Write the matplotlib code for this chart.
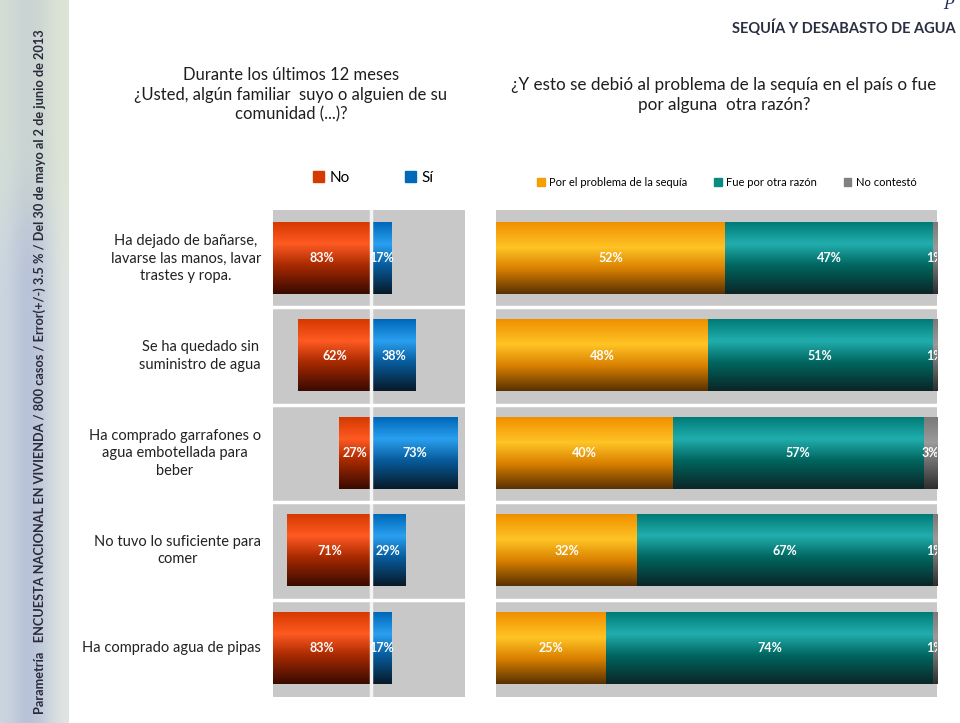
import numpy as np
import matplotlib.pyplot as plt
from matplotlib.patches import Patch

# Datos de la lámina (Parametría, sequía y desabasto de agua)
categorias = ["Ha dejado de bañarse,\nlavarse las manos, lavar\ntrastes y ropa.",
              "Se ha quedado sin\nsuministro de agua",
              "Ha comprado garrafones o\nagua embotellada para\nbeber",
              "No tuvo lo suficiente para\ncomer",
              "Ha comprado agua de pipas"]
no_vals = [83, 62, 27, 71, 83]
si_vals = [17, 38, 73, 29, 17]

sequia = [52, 48, 40, 32, 25]
otra_razon = [47, 51, 57, 67, 74]
no_contesto = [1, 1, 3, 1, 1]

plt.rcParams['font.family'] = ['Lato', 'DejaVu Sans']

# Degradados tipo Excel 2007 (arriba -> abajo)
rojo = [(0, '#d63a00'), (0.3, '#ff5a22'), (0.6, '#a82a00'), (1, '#3a0a00')]
azul = [(0, '#0068b8'), (0.3, '#2aa0f0'), (0.6, '#075c9c'), (1, '#071a2a')]
naranja = [(0, '#f09000'), (0.35, '#ffc425'), (0.65, '#d98000'), (1, '#5a3200')]
verde = [(0, '#007c78'), (0.3, '#22aeae'), (0.6, '#006660'), (1, '#0a2626')]
gris = [(0, '#7a7a7a'), (0.35, '#9a9a9a'), (1, '#2e2e2e')]


def degradado(stops, n=64):
    t = np.linspace(0, 1, n)
    pos = [s[0] for s in stops]
    cols = np.array([[int(s[1][i:i + 2], 16) / 255 for i in (1, 3, 5)] for s in stops])
    img = np.stack([np.interp(t, pos, cols[:, c]) for c in range(3)], axis=-1)
    return img[:, None, :]


def pintar(ax, barras, stops):
    img = degradado(stops)
    for b in barras:
        x0, y0, w, h = b.get_x(), b.get_y(), b.get_width(), b.get_height()
        ax.imshow(img, extent=(x0, x0 + w, y0 + h, y0), origin='upper',
                  aspect='auto', zorder=3, interpolation='bilinear')


fig = plt.figure(figsize=(9.6, 7.23), dpi=100)

# Franja lateral
ax_s = fig.add_axes([0, 0, 0.071, 1])
franja = np.array([[[0.80, 0.84, 0.88], [0.70, 0.74, 0.84], [0.76, 0.80, 0.86], [0.88, 0.90, 0.88]]])
franja = np.repeat(franja, 10, axis=0)
franja[:3] = franja[:3] * 0.5 + np.array([0.86, 0.90, 0.80]) * 0.5
ax_s.imshow(franja, aspect='auto', interpolation='bicubic', extent=(0, 1, 0, 1))
ax_s.set_axis_off()
ax_s.text(0.58, 0.012, "Parametría   ENCUESTA NACIONAL EN VIVIENDA / 800 casos / Error(+/-) 3.5 % / "
          "Del 30 de mayo al 2 de junio de 2013", rotation=90, ha='center', va='bottom',
          fontsize=9.2, fontweight='bold', color='#2a2a3a',
          transform=ax_s.transAxes)

y = np.arange(len(categorias))

# Gráfica izquierda
ax1 = fig.add_axes([0.284, 0.036, 0.2, 0.674])
ax1.set_facecolor('#c8c8c8')
b_no = ax1.barh(y, [-v for v in no_vals], height=0.73, color='#d63a00', zorder=2)
b_si = ax1.barh(y, si_vals, height=0.73, color='#0068b8', zorder=2)
pintar(ax1, b_no, rojo)
pintar(ax1, b_si, azul)
for i in range(len(categorias)):
    ax1.text(-no_vals[i] / 2, y[i], f"{no_vals[i]}%", ha='center', va='center',
             color='white', fontsize=9, fontweight='bold', zorder=5)
    ax1.text(si_vals[i] / 2, y[i], f"{si_vals[i]}%", ha='center', va='center',
             color='white', fontsize=9, fontweight='bold', zorder=5)
ax1.axvline(0, color='#f4f4f4', lw=2.5, zorder=4)
for s in np.arange(0.5, len(categorias) - 0.5, 1):
    ax1.axhline(s, color='white', lw=2.5, zorder=4)
ax1.set_xlim(-83.5, 79)
ax1.set_ylim(len(categorias) - 0.5, -0.5)
ax1.set_xticks([])
ax1.set_yticks([])
for sp in ax1.spines.values():
    sp.set_visible(False)

for i, cat in enumerate(categorias):
    ax1.text(-0.06, y[i], cat, transform=ax1.get_yaxis_transform(), ha='right',
             va='center', multialignment='center', fontsize=10.5, color='#222222',
             linespacing=1.3)

# Gráfica derecha
ax2 = fig.add_axes([0.517, 0.036, 0.459, 0.674])
ax2.set_facecolor('#c8c8c8')
b1 = ax2.barh(y, sequia, height=0.73, color='#f09000', zorder=2)
b2 = ax2.barh(y, otra_razon, left=sequia, height=0.73, color='#007c78', zorder=2)
izq3 = [a + b for a, b in zip(sequia, otra_razon)]
b3 = ax2.barh(y, no_contesto, left=izq3, height=0.73, color='#7a7a7a', zorder=2)
pintar(ax2, b1, naranja)
pintar(ax2, b2, verde)
pintar(ax2, b3, gris)
for i in range(len(categorias)):
    ax2.text(sequia[i] / 2, y[i], f"{sequia[i]}%", ha='center', va='center',
             color='white', fontsize=9, fontweight='bold', zorder=5)
    ax2.text(sequia[i] + otra_razon[i] / 2, y[i], f"{otra_razon[i]}%", ha='center',
             va='center', color='white', fontsize=9, fontweight='bold', zorder=5)
    ax2.text(izq3[i] + no_contesto[i] / 2, y[i], f"{no_contesto[i]}%", ha='center',
             va='center', color='white', fontsize=9, fontweight='bold', zorder=5,
             clip_on=True)
for s in np.arange(0.5, len(categorias) - 0.5, 1):
    ax2.axhline(s, color='white', lw=2.5, zorder=4)
ax2.set_xlim(0, 100)
ax2.set_ylim(len(categorias) - 0.5, -0.5)
ax2.set_xticks([])
ax2.set_yticks([])
for sp in ax2.spines.values():
    sp.set_visible(False)

# Leyendas
fig.legend([Patch(color='#d63a00'), Patch(color='#0068b8')], ['No', 'Sí'],
           loc='center', bbox_to_anchor=(0.389, 0.754), ncol=2, frameon=False,
           fontsize=11, handlelength=0.7, handleheight=0.7, handletextpad=0.4,
           columnspacing=3.6)
fig.legend([Patch(color='#f5a000'), Patch(color='#0a8a80'), Patch(color='#808080')],
           ['Por el problema de la sequía', 'Fue por otra razón', 'No contestó'],
           loc='center', bbox_to_anchor=(0.757, 0.748), ncol=3, frameon=False,
           fontsize=8, handlelength=0.7, handleheight=0.7, handletextpad=0.4,
           columnspacing=2.4)

# Títulos
fig.text(0.303, 0.869, "Durante los últimos 12 meses\n¿Usted, algún familiar  suyo o alguien de su\ncomunidad (...)?",
         ha='center', va='center', fontsize=12, color='#1e1e1e', linespacing=1.3)
fig.text(0.754, 0.868, "¿Y esto se debió al problema de la sequía en el país o fue\npor alguna  otra razón?",
         ha='center', va='center', fontsize=12.3, color='#1e1e1e', linespacing=1.3)
fig.text(0.995, 0.962, "SEQUÍA Y DESABASTO DE AGUA", ha='right', va='center',
         fontsize=10.5, fontweight='bold', color='#2a2e40')
fig.text(0.983, 0.993, "P", ha='left', va='center', fontsize=11, style='italic',
         family='DejaVu Serif', color='#1a2a5a')

fig.savefig('out.png', dpi=100)
